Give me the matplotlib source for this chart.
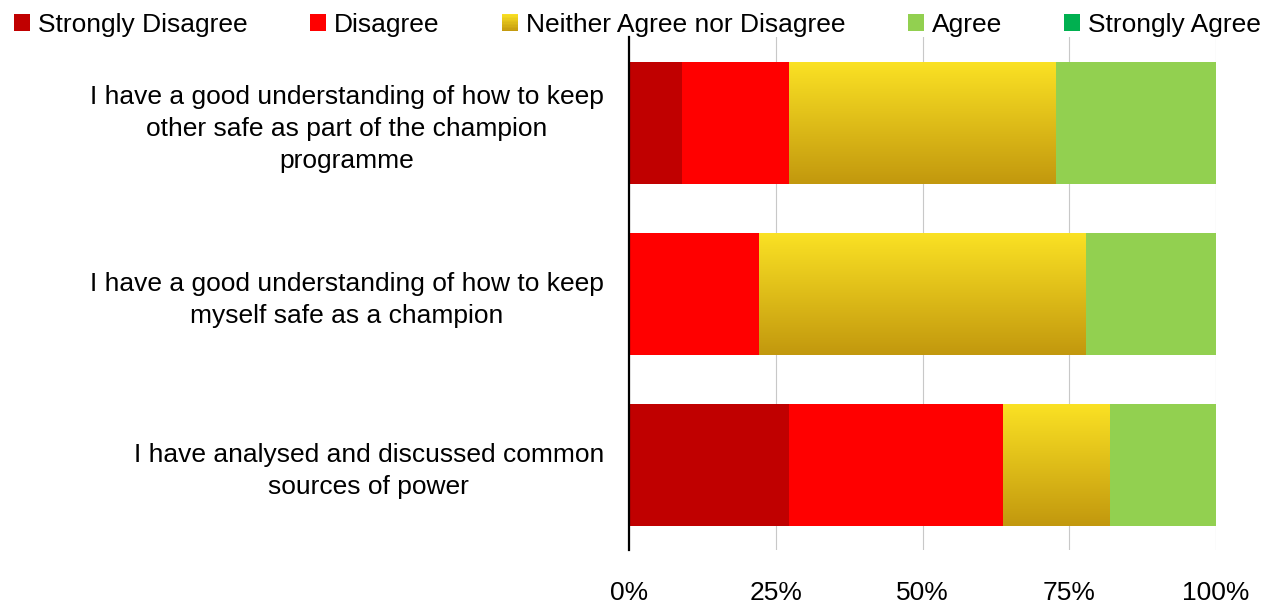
import numpy as np
import matplotlib
matplotlib.use("Agg")
import matplotlib.pyplot as plt
from matplotlib.patches import Rectangle
from matplotlib.legend_handler import HandlerBase
from matplotlib.ticker import PercentFormatter

plt.rcParams['font.family'] = ['Liberation Sans', 'DejaVu Sans']

# data (percent of respondents)
questions = [
    "I have a good understanding of how to keep\nother safe as part of the champion\nprogramme",
    "I have a good understanding of how to keep\nmyself safe as a champion",
    "I have analysed and discussed common\nsources of power",
]
responses = ["Strongly Disagree", "Disagree", "Neither Agree nor Disagree", "Agree", "Strongly Agree"]
strongly_disagree = [9.1, 0.0, 27.3]
disagree = [18.2, 22.2, 36.4]
neither = [45.4, 55.6, 18.2]
agree = [27.3, 22.2, 18.1]
strongly_agree = [0.0, 0.0, 0.0]

colors = ["#c00000", "#ff0000", "gradient", "#92d050", "#00b050"]
grad_top = np.array([251, 226, 36]) / 255
grad_bot = np.array([194, 152, 14]) / 255

fig = plt.figure(figsize=(12.83, 6.10), dpi=100)
ax = fig.add_axes([0.4903, 0.098, 0.4575, 0.841])

y = np.arange(len(questions))
series = [strongly_disagree, disagree, neither, agree, strongly_agree]
left = np.zeros(len(questions))
h = 0.714

grad = np.linspace(0, 1, 256)[:, None, None]
grad_img = grad_top * (1 - grad) + grad_bot * grad

for vals, col in zip(series, colors):
    vals = np.array(vals)
    if col == "gradient":
        bars = ax.barh(y, vals, left=left, height=h, color="none", linewidth=0)
        for b in bars:
            x0, y0 = b.get_x(), b.get_y()
            w, hh = b.get_width(), b.get_height()
            if w <= 0:
                continue
            im = ax.imshow(grad_img, extent=[x0, x0 + w, y0, y0 + hh], aspect="auto",
                           origin="lower", zorder=2, interpolation="bilinear")
            im.set_clip_path(b)
    else:
        ax.barh(y, vals, left=left, height=h, color=col, linewidth=0, zorder=2)
    left += vals

ax.set_xlim(0, 100)
ax.set_ylim(2.5, -0.5)
ax.set_aspect("auto")
ax.xaxis.set_major_locator(plt.FixedLocator([0, 25, 50, 75, 100]))
ax.xaxis.set_major_formatter(PercentFormatter(decimals=0))
ax.set_yticks(y)
ax.set_yticklabels(questions)
for t in ax.get_yticklabels():
    t.set_multialignment("center")
    t.set_linespacing(1.42)
ax.tick_params(axis="x", length=0, pad=22, labelsize=19)
ax.tick_params(axis="y", length=0, pad=18, labelsize=19)
ax.grid(axis="x", color="#c8c8c8", linewidth=0.8, zorder=0)
ax.set_axisbelow(True)
for s in ["top", "right", "bottom"]:
    ax.spines[s].set_visible(False)
ax.spines["left"].set_linewidth(1.6)
ax.spines["left"].set_zorder(5)


class GradientHandler(HandlerBase):
    def create_artists(self, legend, orig_handle, xdescent, ydescent, width, height, fontsize, trans):
        arts = []
        n = 12
        for i in range(n):
            f = (i + 0.5) / n
            c = grad_bot * (1 - f) + grad_top * f
            r = Rectangle((-xdescent, -ydescent + height * i / n), width, height / n + 0.05,
                          facecolor=c, edgecolor="none", transform=trans)
            arts.append(r)
        return arts


handles = []
handler_map = {}
for lab, col in zip(responses, colors):
    if col == "gradient":
        p = Rectangle((0, 0), 1, 1, facecolor=grad_top)
        handler_map[p] = GradientHandler()
    else:
        p = Rectangle((0, 0), 1, 1, facecolor=col, edgecolor="none")
    handles.append(p)

fig.legend(handles, responses, loc="upper center", bbox_to_anchor=(0.497, 1.018), ncol=5,
           frameon=False, fontsize=19, handlelength=0.62, handleheight=0.62,
           handletextpad=0.3, columnspacing=2.35, handler_map=handler_map)

fig.savefig("out.png", dpi=100)
